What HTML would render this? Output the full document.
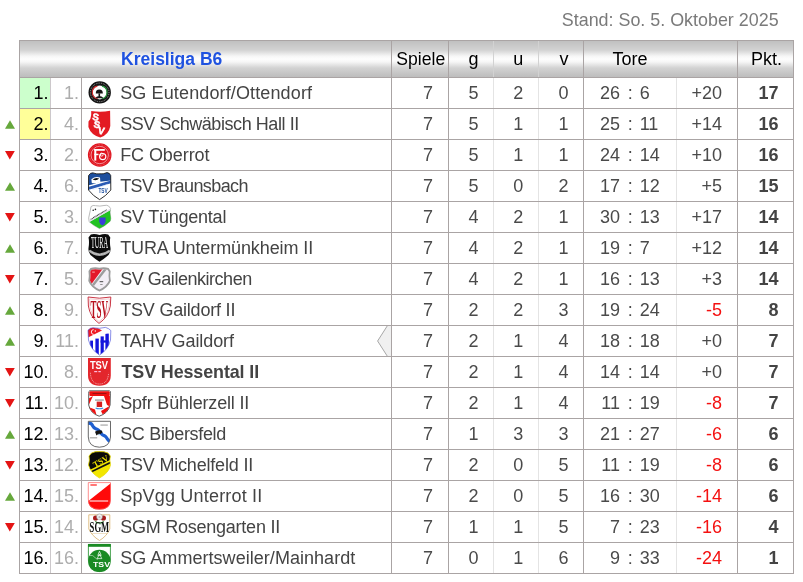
<!DOCTYPE html><html><head><meta charset="utf-8"><title>Kreisliga B6</title><style>
*{margin:0;padding:0;box-sizing:border-box}
html,body{width:803px;height:582px;background:#fff;overflow:hidden}
body{position:relative;font-family:"Liberation Sans",Arial,sans-serif;font-size:18px;color:#444}
.a{position:absolute;white-space:nowrap}
.stand{position:absolute;top:6px;right:24.4px;font-size:17.9px;color:#7a7a7a;line-height:28px;white-space:nowrap}
.hdr{position:absolute;left:19px;top:40px;width:775px;height:38px;border:1px solid #aaa4a4;
 background:linear-gradient(to bottom,#c0c0c0 0%,#d2d2d2 25%,#f6f6f6 42%,#fdfdfd 50%,#f6f6f6 58%,#d2d2d2 75%,#bdbdbd 100%)}
.ht{position:absolute;top:40px;height:38px;line-height:38px;color:#000;white-space:nowrap}
.vl{position:absolute;width:1px}
.hl{position:absolute;height:1px;left:19px;width:775px;background:#aaa4a4}
.row{position:absolute;left:0;width:803px;height:30px;line-height:30px}
.row .a{top:0;height:30px}
.rk{color:#000}
.pv{color:#adadad}
.nm{color:#444}
.nb{font-weight:bold}
.num{color:#4a4a4a}
.neg{color:#f41010}
.pk{font-weight:bold;color:#444}
.tri{position:absolute;left:0;top:0}
.logo{position:absolute;left:82px;top:0;width:36px;height:30px;overflow:visible}
</style></head><body>
<div class="stand">Stand: So. 5. Oktober 2025</div>
<div class="hdr"></div>
<div class="vl" style="left:391px;top:40px;height:38px;background:#aaa4a4"></div>
<div class="vl" style="left:448px;top:40px;height:38px;background:#aaa4a4"></div>
<div class="vl" style="left:583px;top:40px;height:38px;background:#aaa4a4"></div>
<div class="vl" style="left:737px;top:40px;height:38px;background:#aaa4a4"></div>
<div class="vl" style="left:493px;top:41px;height:36px;background:#d2d2d2"></div>
<div class="vl" style="left:538px;top:41px;height:36px;background:#d2d2d2"></div>
<div class="ht" style="left:121.1px;font-weight:bold;color:#1f52e0;font-size:17.5px">Kreisliga B6</div>
<div class="ht" style="left:396.3px;font-size:17.6px">Spiele</div>
<div class="ht" style="right:324.60px">g</div>
<div class="ht" style="right:279.80px">u</div>
<div class="ht" style="right:234.40px">v</div>
<div class="ht" style="left:612.5px">Tore</div>
<div class="ht" style="left:751px">Pkt.</div>
<div class="a" style="left:20px;top:78px;width:30px;height:30px;background:#ccffcc"></div>
<div class="a" style="left:20px;top:109px;width:30px;height:30px;background:#ffff99"></div>
<div class="vl" style="left:19px;top:78px;height:496px;background:#aaa4a4"></div>
<div class="vl" style="left:50px;top:78px;height:496px;background:#ccc8cb"></div>
<div class="vl" style="left:81px;top:78px;height:496px;background:#aaa4a4"></div>
<div class="vl" style="left:391px;top:78px;height:496px;background:#aaa4a4"></div>
<div class="vl" style="left:448px;top:78px;height:496px;background:#aaa4a4"></div>
<div class="vl" style="left:493px;top:78px;height:496px;background:#e4e4e4"></div>
<div class="vl" style="left:538px;top:78px;height:496px;background:#e4e4e4"></div>
<div class="vl" style="left:583px;top:78px;height:496px;background:#aaa4a4"></div>
<div class="vl" style="left:676px;top:78px;height:496px;background:#e4e4e4"></div>
<div class="vl" style="left:737px;top:78px;height:496px;background:#aaa4a4"></div>
<div class="vl" style="left:793px;top:78px;height:496px;background:#aaa4a4"></div>
<div class="hl" style="top:108px"></div>
<div class="hl" style="top:139px"></div>
<div class="hl" style="top:170px"></div>
<div class="hl" style="top:201px"></div>
<div class="hl" style="top:232px"></div>
<div class="hl" style="top:263px"></div>
<div class="hl" style="top:294px"></div>
<div class="hl" style="top:325px"></div>
<div class="hl" style="top:356px"></div>
<div class="hl" style="top:387px"></div>
<div class="hl" style="top:418px"></div>
<div class="hl" style="top:449px"></div>
<div class="hl" style="top:480px"></div>
<div class="hl" style="top:511px"></div>
<div class="hl" style="top:542px"></div>
<div class="hl" style="top:573px"></div>
<svg class="a" style="left:370px;top:320px" width="30" height="45" viewBox="370 320 30 45"><polygon points="391,326 387,326 377.5,341 387,356 391,356" fill="#f0f0f0"/><polyline points="387.2,326 377.6,341 387.2,356" fill="none" stroke="#a8a8a8" stroke-width="1"/></svg>
<div class="row" style="top:78px">
<div class="a rk" style="right:754.50px">1.</div>
<div class="a pv" style="right:724.00px">1.</div>
<svg class="logo" viewBox="82 78 36 30" width="36" height="30">
<circle cx="99.7" cy="92.4" r="11.2" fill="#141414"/>
<circle cx="99.7" cy="92.4" r="9.3" fill="none" stroke="#fff" stroke-width="1" stroke-dasharray="0.8 1" opacity="0.6"/>
<circle cx="99.7" cy="92.4" r="7.0" fill="#fff"/>
<path d="M97.4 86.2 A6.3 6.3 0 0 0 97.6 98.6" stroke="#d03030" stroke-width="1.2" fill="none"/>
<path d="M102 86.2 A6.3 6.3 0 0 1 101.8 98.6" stroke="#2c9a44" stroke-width="1.2" fill="none"/>
<path d="M95.8 93.6 Q95.6 89.4 99.3 89.4 Q103 89.4 102.8 93.6 Z" fill="#151515"/>
<rect x="98.5" y="93.4" width="1.6" height="3.6" fill="#151515"/>
<path d="M95.4 98.2 Q97 95.6 99.3 96.6 Q101.6 95.6 103.4 98.2 Z" fill="#1a1a1a"/>
</svg>
<div class="a nm" style="left:120.2px;letter-spacing:0.13px">SG Eutendorf/Ottendorf</div>
<div class="a num" style="right:370.00px">7</div>
<div class="a num" style="right:324.60px">5</div>
<div class="a num" style="right:279.80px">2</div>
<div class="a num" style="right:234.40px">0</div>
<div class="a num" style="right:183.00px">26</div>
<div class="a num" style="left:627.80px">:</div>
<div class="a num" style="left:639.7px">6</div>
<div class="a num" style="right:81.00px">+20</div>
<div class="a pk" style="right:24.40px">17</div>
</div>
<div class="row" style="top:109px">
<svg class="tri" width="20" height="30" viewBox="0 0 20 30"><polygon points="5,19.7 15,19.7 10,11.2" fill="#66a83c"/></svg>
<div class="a rk" style="right:754.50px">2.</div>
<div class="a pv" style="right:724.00px">4.</div>
<svg class="logo" viewBox="82 109 36 30" width="36" height="30">
<path d="M91.2 111 Q100.5 112.6 110.1 110.8 L110.3 126 Q109 134.5 100.3 137.6 Q91 135 88.4 127 L88.5 121.5 Q91 119 91.2 115 Z" fill="#e31b23"/>
<text x="92.6" y="120.4" font-family="Liberation Sans" font-weight="bold" font-size="9.6" fill="#fff" stroke="#fff" stroke-width="0.5" transform="rotate(10 96 117)">S</text>
<text x="93.8" y="127.8" font-family="Liberation Sans" font-weight="bold" font-size="9.6" fill="#fff" stroke="#fff" stroke-width="0.5" transform="rotate(10 97 124)">S</text>
<text x="98.2" y="134.4" font-family="Liberation Sans" font-weight="bold" font-size="9.8" fill="#fff" stroke="#fff" stroke-width="0.5" transform="rotate(10 103 130)">V</text>
</svg>
<div class="a nm" style="left:120.2px;letter-spacing:-0.43px">SSV Schwäbisch Hall II</div>
<div class="a num" style="right:370.00px">7</div>
<div class="a num" style="right:324.60px">5</div>
<div class="a num" style="right:279.80px">1</div>
<div class="a num" style="right:234.40px">1</div>
<div class="a num" style="right:183.00px">25</div>
<div class="a num" style="left:627.80px">:</div>
<div class="a num" style="left:639.7px">11</div>
<div class="a num" style="right:81.00px">+14</div>
<div class="a pk" style="right:24.40px">16</div>
</div>
<div class="row" style="top:140px">
<svg class="tri" width="20" height="30" viewBox="0 0 20 30"><polygon points="5,11 14.8,11 9.8,19.6" fill="#e41414"/></svg>
<div class="a rk" style="right:754.50px">3.</div>
<div class="a pv" style="right:724.00px">2.</div>
<svg class="logo" viewBox="82 140 36 30" width="36" height="30">
<circle cx="99.7" cy="155" r="11.8" fill="#e0141e"/>
<circle cx="99.7" cy="155" r="8.7" fill="none" stroke="#fff" stroke-width="0.6" opacity="0.9"/>
<circle cx="99.7" cy="155" r="10.3" fill="none" stroke="#fff" stroke-width="0.8" stroke-dasharray="0.6 0.9" opacity="0.45"/>
<rect x="94.3" y="149" width="2.0" height="11.6" fill="#fff"/>
<rect x="94.3" y="149" width="10.5" height="1.8" fill="#fff"/>
<rect x="94.3" y="153.7" width="4.2" height="1.5" fill="#fff"/>
<circle cx="102.7" cy="156.6" r="3.1" fill="none" stroke="#fff" stroke-width="1.2"/>
<circle cx="101.6" cy="154.6" r="1.5" fill="none" stroke="#fff" stroke-width="0.9"/>
</svg>
<div class="a nm" style="left:120.2px;letter-spacing:-0.08px">FC Oberrot</div>
<div class="a num" style="right:370.00px">7</div>
<div class="a num" style="right:324.60px">5</div>
<div class="a num" style="right:279.80px">1</div>
<div class="a num" style="right:234.40px">1</div>
<div class="a num" style="right:183.00px">24</div>
<div class="a num" style="left:627.80px">:</div>
<div class="a num" style="left:639.7px">14</div>
<div class="a num" style="right:81.00px">+10</div>
<div class="a pk" style="right:24.40px">16</div>
</div>
<div class="row" style="top:171px">
<svg class="tri" width="20" height="30" viewBox="0 0 20 30"><polygon points="5,19.7 15,19.7 10,11.2" fill="#66a83c"/></svg>
<div class="a rk" style="right:754.50px">4.</div>
<div class="a pv" style="right:724.00px">6.</div>
<svg class="logo" viewBox="82 171 36 30" width="36" height="30">
<defs><clipPath id="c4"><path d="M88.6 175.5 Q90.5 172.4 93 172.9 Q97 174.4 100 173.8 Q103 174.4 107 172.6 Q109.7 172.8 110.7 175.5 L110.8 190 Q106 196 99.6 199.6 Q93 196 88.5 190 Z"/></clipPath></defs>
<path d="M88.6 175.5 Q90.5 172.4 93 172.9 Q97 174.4 100 173.8 Q103 174.4 107 172.6 Q109.7 172.8 110.7 175.5 L110.8 190 Q106 196 99.6 199.6 Q93 196 88.5 190 Z" fill="#fff"/>
<g clip-path="url(#c4)">
<polygon points="86,170 113,170 113,180.2 100,181.8 92,184.6 86,186" fill="#1d4e9e"/>
<polygon points="86,187.6 113,179.8 113,182.6 86,190.6" fill="#2a5ab4"/>
<path d="M91.4 179.2 Q95 176 100 177.4 L100.4 182.2 Q95.5 183.8 91.8 183 Z" fill="#fff"/>
<path d="M92.6 179.6 Q95.6 176.8 99.2 178.6 Q96.4 181.4 92.6 179.6 Z" fill="#111"/>
<rect x="90.5" y="186.9" width="17" height="0.7" fill="#cfe0ff" opacity="0.7" transform="rotate(-20.5 99 184)"/>
</g>
<path d="M88.6 175.5 Q90.5 172.4 93 172.9 Q97 174.4 100 173.8 Q103 174.4 107 172.6 Q109.7 172.8 110.7 175.5 L110.8 190 Q106 196 99.6 199.6 Q93 196 88.5 190 Z" fill="none" stroke="#1a1a1a" stroke-width="0.9"/>
<text x="98.4" y="193.2" font-family="Liberation Sans" font-weight="bold" font-size="6.4" fill="#1d4e9e" textLength="9.2" lengthAdjust="spacingAndGlyphs">TSV</text>
</svg>
<div class="a nm" style="left:120.2px;letter-spacing:-0.6px">TSV Braunsbach</div>
<div class="a num" style="right:370.00px">7</div>
<div class="a num" style="right:324.60px">5</div>
<div class="a num" style="right:279.80px">0</div>
<div class="a num" style="right:234.40px">2</div>
<div class="a num" style="right:183.00px">17</div>
<div class="a num" style="left:627.80px">:</div>
<div class="a num" style="left:639.7px">12</div>
<div class="a num" style="right:81.00px">+5</div>
<div class="a pk" style="right:24.40px">15</div>
</div>
<div class="row" style="top:202px">
<svg class="tri" width="20" height="30" viewBox="0 0 20 30"><polygon points="5,11 14.8,11 9.8,19.6" fill="#e41414"/></svg>
<div class="a rk" style="right:754.50px">5.</div>
<div class="a pv" style="right:724.00px">3.</div>
<svg class="logo" viewBox="82 202 36 30" width="36" height="30">
<defs><clipPath id="c5"><path d="M91 206.6 Q93 204.8 95.5 205.7 Q100 206.6 104 205.5 Q107 204.8 108.6 206 L110.6 208.5 Q109.6 212 110.5 216 Q111.2 219 110.2 221.2 Q105 226 99.5 228.6 Q93.5 225.5 89.2 221.8 Q88 218 89.5 214 Q90.5 210 91 206.6 Z"/></clipPath></defs>
<path d="M91 206.6 Q93 204.8 95.5 205.7 Q100 206.6 104 205.5 Q107 204.8 108.6 206 L110.6 208.5 Q109.6 212 110.5 216 Q111.2 219 110.2 221.2 Q105 226 99.5 228.6 Q93.5 225.5 89.2 221.8 Q88 218 89.5 214 Q90.5 210 91 206.6 Z" fill="#fff" stroke="#aaa" stroke-width="0.8"/>
<g clip-path="url(#c5)">
<polygon points="86,224 113,208.6 113,232 86,232" fill="#22c222"/>
<polygon points="86,222.6 113,207.2 113,208.6 86,224" fill="#e0d8e8"/>
</g>
<path d="M99.2 217.4 L105.6 217.4 L105.6 221.5 Q105.2 224.6 102.4 225.6 Q99.6 224.6 99.2 221.5 Z" fill="#3a3ed8"/>
<circle cx="93.2" cy="210.2" r="0.8" fill="#222"/><circle cx="95.4" cy="209.4" r="0.8" fill="#222"/>
<line x1="90.6" y1="219.4" x2="106.6" y2="209.8" stroke="#333" stroke-width="1.1" stroke-dasharray="1 0.5"/>
</svg>
<div class="a nm" style="left:120.2px;letter-spacing:-0.23px">SV Tüngental</div>
<div class="a num" style="right:370.00px">7</div>
<div class="a num" style="right:324.60px">4</div>
<div class="a num" style="right:279.80px">2</div>
<div class="a num" style="right:234.40px">1</div>
<div class="a num" style="right:183.00px">30</div>
<div class="a num" style="left:627.80px">:</div>
<div class="a num" style="left:639.7px">13</div>
<div class="a num" style="right:81.00px">+17</div>
<div class="a pk" style="right:24.40px">14</div>
</div>
<div class="row" style="top:233px">
<svg class="tri" width="20" height="30" viewBox="0 0 20 30"><polygon points="5,19.7 15,19.7 10,11.2" fill="#66a83c"/></svg>
<div class="a rk" style="right:754.50px">6.</div>
<div class="a pv" style="right:724.00px">7.</div>
<svg class="logo" viewBox="82 233 36 30" width="36" height="30">
<path d="M90.8 234.4 Q95 233.6 99.5 235 Q104 233.6 108.2 234.4 L110.3 237.5 Q109.5 242 110.5 248 Q111 252 108.5 255 Q104 259 99.5 261.8 Q95 259 90.5 255 Q88 252 88.5 248 Q89.5 242 88.5 237.5 Z" fill="#0b0b0b"/>
<text x="0" y="0" font-family="Liberation Serif" font-size="9.4" fill="#fff" textLength="17.2" lengthAdjust="spacingAndGlyphs" transform="translate(90.9 248.4) scale(1 1.85)">TURA</text>
<path d="M89.4 250.8 Q99.5 258.6 109.8 250.8" fill="none" stroke="#a8a8a8" stroke-width="2.4"/>
<path d="M89.2 250.3 Q99.5 258.5 110 250.3" fill="none" stroke="#ddd" stroke-width="0.8" stroke-dasharray="0.8 0.8"/>
</svg>
<div class="a nm" style="left:120.2px;letter-spacing:-0.105px">TURA Untermünkheim II</div>
<div class="a num" style="right:370.00px">7</div>
<div class="a num" style="right:324.60px">4</div>
<div class="a num" style="right:279.80px">2</div>
<div class="a num" style="right:234.40px">1</div>
<div class="a num" style="right:183.00px">19</div>
<div class="a num" style="left:627.80px">:</div>
<div class="a num" style="left:639.7px">7</div>
<div class="a num" style="right:81.00px">+12</div>
<div class="a pk" style="right:24.40px">14</div>
</div>
<div class="row" style="top:264px">
<svg class="tri" width="20" height="30" viewBox="0 0 20 30"><polygon points="5,11 14.8,11 9.8,19.6" fill="#e41414"/></svg>
<div class="a rk" style="right:754.50px">7.</div>
<div class="a pv" style="right:724.00px">5.</div>
<svg class="logo" viewBox="82 264 36 30" width="36" height="30">
<defs><clipPath id="c7"><path d="M91.6 269.8 Q95 268.8 99.5 269.7 Q104 268.8 107.6 269.8 L108.8 271.8 Q108.2 276 109 280.6 Q106.6 286.2 99.5 289.6 Q92.4 286.2 90 280.6 Q90.8 276 90.2 271.8 Z"/></clipPath></defs>
<path d="M90.5 268 Q95 266.8 99.5 267.8 Q104 266.8 108.6 268 L110.6 271 Q109.8 276 110.8 281 Q108 288 99.5 291.5 Q91 288 88.3 281 Q89.3 276 88.5 271 Z" fill="#9c9c9c"/>
<path d="M91.6 269.8 Q95 268.8 99.5 269.7 Q104 268.8 107.6 269.8 L108.8 271.8 Q108.2 276 109 280.6 Q106.6 286.2 99.5 289.6 Q92.4 286.2 90 280.6 Q90.8 276 90.2 271.8 Z" fill="#f3eef5"/>
<g clip-path="url(#c7)">
<polygon points="86,266 104.8,266 90.6,285.2 86,285.2" fill="#e3182a"/>
<line x1="91.2" y1="287.4" x2="107.6" y2="266.4" stroke="#9c9c9c" stroke-width="2.4"/>
</g>
<rect x="99.6" y="281" width="3.6" height="1.2" fill="#666"/>
<rect x="100.2" y="284" width="2.4" height="0.9" fill="#888"/>
<rect x="92.2" y="271.6" width="2.6" height="1" fill="#f9b0b0"/>
</svg>
<div class="a nm" style="left:120.2px;letter-spacing:-0.47px">SV Gailenkirchen</div>
<div class="a num" style="right:370.00px">7</div>
<div class="a num" style="right:324.60px">4</div>
<div class="a num" style="right:279.80px">2</div>
<div class="a num" style="right:234.40px">1</div>
<div class="a num" style="right:183.00px">16</div>
<div class="a num" style="left:627.80px">:</div>
<div class="a num" style="left:639.7px">13</div>
<div class="a num" style="right:81.00px">+3</div>
<div class="a pk" style="right:24.40px">14</div>
</div>
<div class="row" style="top:295px">
<svg class="tri" width="20" height="30" viewBox="0 0 20 30"><polygon points="5,19.7 15,19.7 10,11.2" fill="#66a83c"/></svg>
<div class="a rk" style="right:754.50px">8.</div>
<div class="a pv" style="right:724.00px">9.</div>
<svg class="logo" viewBox="82 295 36 30" width="36" height="30">
<path d="M88.1 297 Q99.5 299.4 110.8 297 L110.3 306 Q108.5 317 99 323.4 Q90 317 88.4 306 Z" fill="#fff" stroke="#c42030" stroke-width="0.9"/>
<path d="M89.5 298.8 Q99.5 300.8 109.4 298.8 L109 306 Q107.3 315.8 99 321.6 Q91.3 315.8 89.8 306 Z" fill="none" stroke="#e8a0a8" stroke-width="0.5"/>
<text x="0" y="0" font-family="Liberation Serif" font-weight="bold" font-size="9" fill="#b8101e" textLength="17.4" lengthAdjust="spacingAndGlyphs" transform="translate(90.6 318.2) scale(1 2.9)">TSV</text>
</svg>
<div class="a nm" style="left:120.2px;letter-spacing:-0.2px">TSV Gaildorf II</div>
<div class="a num" style="right:370.00px">7</div>
<div class="a num" style="right:324.60px">2</div>
<div class="a num" style="right:279.80px">2</div>
<div class="a num" style="right:234.40px">3</div>
<div class="a num" style="right:183.00px">19</div>
<div class="a num" style="left:627.80px">:</div>
<div class="a num" style="left:639.7px">24</div>
<div class="a neg" style="right:81.00px">-5</div>
<div class="a pk" style="right:24.40px">8</div>
</div>
<div class="row" style="top:326px">
<svg class="tri" width="20" height="30" viewBox="0 0 20 30"><polygon points="5,19.7 15,19.7 10,11.2" fill="#66a83c"/></svg>
<div class="a rk" style="right:754.50px">9.</div>
<div class="a pv" style="right:724.00px">11.</div>
<svg class="logo" viewBox="82 326 36 30" width="36" height="30">
<defs><clipPath id="c9"><path d="M88 330.2 Q90.5 327.4 93.5 327.8 Q99 329 105.5 327.4 Q109 328.4 110.8 330.5 L110.5 340 Q108 350 99.5 355 Q91 350 88.5 340 Z"/></clipPath></defs>
<path d="M88 330.2 Q90.5 327.4 93.5 327.8 Q99 329 105.5 327.4 Q109 328.4 110.8 330.5 L110.5 340 Q108 350 99.5 355 Q91 350 88.5 340 Z" fill="#fff"/>
<g clip-path="url(#c9)">
<rect x="90.2" y="340.6" width="2.8" height="12" fill="#1414dc"/>
<rect x="95.4" y="338.6" width="3.4" height="18" fill="#1414dc"/>
<rect x="100.6" y="336.4" width="3.2" height="20" fill="#1414dc"/>
<rect x="105.4" y="333.6" width="3.4" height="16" fill="#1414dc"/>
<rect x="100.6" y="340.4" width="8" height="2.2" fill="#1414dc"/>
<polygon points="86,338.6 112,329.2 112,331.4 86,340.8" fill="#fff"/>
<polygon points="86,326 94,326 102,330.6 88,337.4 86,337.4" fill="#ee1c24"/>
</g>
<path d="M88 330.2 Q90.5 327.4 93.5 327.8 Q99 329 105.5 327.4 Q109 328.4 110.8 330.5 L110.5 340 Q108 350 99.5 355 Q91 350 88.5 340 Z" fill="none" stroke="#3c44d8" stroke-width="0.6"/>
<path d="M93.6 329.6 A2.4 2.4 0 1 0 93.8 334.4" fill="none" stroke="#fff" stroke-width="0.9"/>
<circle cx="95.3" cy="331" r="0.7" fill="#fff"/>
</svg>
<div class="a nm" style="left:120.2px;letter-spacing:-0.07px">TAHV Gaildorf</div>
<div class="a num" style="right:370.00px">7</div>
<div class="a num" style="right:324.60px">2</div>
<div class="a num" style="right:279.80px">1</div>
<div class="a num" style="right:234.40px">4</div>
<div class="a num" style="right:183.00px">18</div>
<div class="a num" style="left:627.80px">:</div>
<div class="a num" style="left:639.7px">18</div>
<div class="a num" style="right:81.00px">+0</div>
<div class="a pk" style="right:24.40px">7</div>
</div>
<div class="row" style="top:357px">
<svg class="tri" width="20" height="30" viewBox="0 0 20 30"><polygon points="5,11 14.8,11 9.8,19.6" fill="#e41414"/></svg>
<div class="a rk" style="right:754.50px">10.</div>
<div class="a pv" style="right:724.00px">8.</div>
<svg class="logo" viewBox="82 357 36 30" width="36" height="30">
<path d="M88 358 L110.8 358 L110.8 375 Q110.8 385.7 99.4 385.7 Q88 385.7 88 375 Z" fill="#e3262c"/>
<text x="89.9" y="368.6" font-family="Liberation Sans" font-weight="bold" font-size="10.4" fill="#fff" textLength="18.2" lengthAdjust="spacingAndGlyphs">TSV</text>
<rect x="94.2" y="371" width="3" height="1.2" fill="#fbd"/>
<rect x="98.4" y="371" width="2.4" height="1.2" fill="#fbd"/>
<path d="M90.4 372.8 Q91 384 99.4 384 Q108 384 108.6 372.8" fill="none" stroke="#fff" stroke-width="0.9" stroke-dasharray="0.9 1" opacity="0.75"/>
</svg>
<div class="a nm nb" style="left:120.2px;font-size:17.9px;margin-left:1.3px;letter-spacing:-0.1px">TSV Hessental II</div>
<div class="a num" style="right:370.00px">7</div>
<div class="a num" style="right:324.60px">2</div>
<div class="a num" style="right:279.80px">1</div>
<div class="a num" style="right:234.40px">4</div>
<div class="a num" style="right:183.00px">14</div>
<div class="a num" style="left:627.80px">:</div>
<div class="a num" style="left:639.7px">14</div>
<div class="a num" style="right:81.00px">+0</div>
<div class="a pk" style="right:24.40px">7</div>
</div>
<div class="row" style="top:388px">
<svg class="tri" width="20" height="30" viewBox="0 0 20 30"><polygon points="5,11 14.8,11 9.8,19.6" fill="#e41414"/></svg>
<div class="a rk" style="right:754.50px">11.</div>
<div class="a pv" style="right:724.00px">10.</div>
<svg class="logo" viewBox="82 388 36 30" width="36" height="30">
<defs><clipPath id="c11"><path d="M89 393 L110 393 L109.8 405 Q108 413 99.2 415.8 Q90.5 413 89 405 Z"/></clipPath></defs>
<path d="M89.6 390.8 L109.6 390.8 Q110.6 391 110.4 393.2 L110.1 405 Q108.2 413.4 99.2 416.2 Q90.3 413.4 88.7 405 L88.7 393.2 Q88.6 391 89.6 390.8 Z" fill="#fff" stroke="#333" stroke-width="0.8"/>
<g clip-path="url(#c11)">
<polygon points="86,400 93,396 86,411" fill="#ee1111"/>
<polygon points="104,396 113,396 113,408 107,405" fill="#ee1111"/>
<polygon points="86,406 95,409.5 97,417 86,417" fill="#ee1111"/>
<polygon points="101,411 113,404 113,417 104,417" fill="#ee1111"/>
</g>
<rect x="89.4" y="391.3" width="20.3" height="4.7" rx="1" fill="#ee1111"/>
<rect x="92.5" y="393" width="14" height="1" fill="#7a1010" opacity="0.7"/>
<circle cx="99.4" cy="404.6" r="4.8" fill="#fff"/>
<rect x="96.7" y="401.6" width="5.4" height="5.4" fill="#d41e1e"/>
<path d="M95.6 408 Q99.4 409.6 103.2 408" stroke="#3f8fdf" stroke-width="1.1" fill="none"/>
<rect x="95" y="399.6" width="8.8" height="0.9" fill="#333" opacity="0.7"/>
</svg>
<div class="a nm" style="left:120.2px;letter-spacing:-0.17px">Spfr Bühlerzell II</div>
<div class="a num" style="right:370.00px">7</div>
<div class="a num" style="right:324.60px">2</div>
<div class="a num" style="right:279.80px">1</div>
<div class="a num" style="right:234.40px">4</div>
<div class="a num" style="right:183.00px">11</div>
<div class="a num" style="left:627.80px">:</div>
<div class="a num" style="left:639.7px">19</div>
<div class="a neg" style="right:81.00px">-8</div>
<div class="a pk" style="right:24.40px">7</div>
</div>
<div class="row" style="top:419px">
<svg class="tri" width="20" height="30" viewBox="0 0 20 30"><polygon points="5,19.7 15,19.7 10,11.2" fill="#66a83c"/></svg>
<div class="a rk" style="right:754.50px">12.</div>
<div class="a pv" style="right:724.00px">13.</div>
<svg class="logo" viewBox="82 419 36 30" width="36" height="30">
<defs><clipPath id="c12"><path d="M88.3 421.3 L110.5 421.3 L110.5 437 Q110 447 99.4 447.2 Q88.7 447 88.3 437 Z"/></clipPath></defs>
<path d="M88.3 421.3 L110.5 421.3 L110.5 437 Q110 447 99.4 447.2 Q88.7 447 88.3 437 Z" fill="#fff"/>
<g clip-path="url(#c12)">
<path d="M87.6 423.4 C90.6 422.6 92.2 424.4 93 426.4 C93.8 428.4 95.6 428.6 97.4 429.4 C99.4 430.4 100.2 432.4 101.8 434.2 C103.2 435.8 104.6 435.4 105.8 436.8 C107 438.2 107.6 440 109.6 441.6" fill="none" stroke="#1f5fd0" stroke-width="3.2"/>
</g>
<path d="M88.3 421.3 L110.5 421.3 L110.5 437 Q110 447 99.4 447.2 Q88.7 447 88.3 437 Z" fill="none" stroke="#444" stroke-width="0.8"/>
<path d="M95 431.8 Q97.4 429.6 101.8 430.6 L102.6 432.6 Q100.4 434.8 97.6 434.6 L96.4 435.4 L95.8 433.8 Z" fill="#141414"/>
<rect x="98.6" y="433.8" width="1" height="1.6" fill="#9cf"/>
<rect x="100.4" y="424.6" width="7.4" height="0.9" fill="#8a8a8a"/>
<rect x="89.8" y="437.4" width="7.4" height="0.9" fill="#8a8a8a"/>
</svg>
<div class="a nm" style="left:120.2px;letter-spacing:-0.33px">SC Bibersfeld</div>
<div class="a num" style="right:370.00px">7</div>
<div class="a num" style="right:324.60px">1</div>
<div class="a num" style="right:279.80px">3</div>
<div class="a num" style="right:234.40px">3</div>
<div class="a num" style="right:183.00px">21</div>
<div class="a num" style="left:627.80px">:</div>
<div class="a num" style="left:639.7px">27</div>
<div class="a neg" style="right:81.00px">-6</div>
<div class="a pk" style="right:24.40px">6</div>
</div>
<div class="row" style="top:450px">
<svg class="tri" width="20" height="30" viewBox="0 0 20 30"><polygon points="5,11 14.8,11 9.8,19.6" fill="#e41414"/></svg>
<div class="a rk" style="right:754.50px">13.</div>
<div class="a pv" style="right:724.00px">12.</div>
<svg class="logo" viewBox="82 450 36 30" width="36" height="30">
<defs><clipPath id="c13"><path d="M91.5 453 Q95.5 451.2 99.5 451.6 Q103.5 451.2 108 453 L110.3 456 Q109.3 460 110.5 465 Q109 473 99.5 478 Q90.5 473 88.5 465 Q90 460 89 456 Z"/></clipPath></defs>
<path d="M91.5 453 Q95.5 451.2 99.5 451.6 Q103.5 451.2 108 453 L110.3 456 Q109.3 460 110.5 465 Q109 473 99.5 478 Q90.5 473 88.5 465 Q90 460 89 456 Z" fill="#f2e600"/>
<g clip-path="url(#c13)">
<polygon points="86,449 113,449 113,458.6 86,471.6" fill="#0a0a0a"/>
<polygon points="86,473.4 113,460.4 113,462.2 86,475.2" fill="#111"/>
</g>
<path d="M91.5 453 Q95.5 451.2 99.5 451.6 Q103.5 451.2 108 453 L110.3 456 Q109.3 460 110.5 465 Q109 473 99.5 478 Q90.5 473 88.5 465 Q90 460 89 456 Z" fill="none" stroke="#e8dc10" stroke-width="0.8"/>
<text x="92.6" y="465.6" font-family="Liberation Serif" font-weight="bold" font-size="8.4" fill="#f2e600" transform="rotate(-30 98 462)">TSV</text>
</svg>
<div class="a nm" style="left:120.2px;letter-spacing:-0.19px">TSV Michelfeld II</div>
<div class="a num" style="right:370.00px">7</div>
<div class="a num" style="right:324.60px">2</div>
<div class="a num" style="right:279.80px">0</div>
<div class="a num" style="right:234.40px">5</div>
<div class="a num" style="right:183.00px">11</div>
<div class="a num" style="left:627.80px">:</div>
<div class="a num" style="left:639.7px">19</div>
<div class="a neg" style="right:81.00px">-8</div>
<div class="a pk" style="right:24.40px">6</div>
</div>
<div class="row" style="top:481px">
<svg class="tri" width="20" height="30" viewBox="0 0 20 30"><polygon points="5,19.7 15,19.7 10,11.2" fill="#66a83c"/></svg>
<div class="a rk" style="right:754.50px">14.</div>
<div class="a pv" style="right:724.00px">15.</div>
<svg class="logo" viewBox="82 481 36 30" width="36" height="30">
<defs><clipPath id="c14"><path d="M88 482.3 L110.8 482.3 L110.8 499 Q110.8 509.6 99.4 509.6 Q88 509.6 88 499 Z"/></clipPath></defs>
<path d="M88 482.3 L110.8 482.3 L110.8 499 Q110.8 509.6 99.4 509.6 Q88 509.6 88 499 Z" fill="#fff"/>
<g clip-path="url(#c14)"><polygon points="110.8,483.2 110.8,512 86,512 86,500.6 89,500.6" fill="#ff0a0a"/></g>
<path d="M88.3 482.6 L110.5 482.6 L110.5 499 Q110.5 509.3 99.4 509.3 Q88.3 509.3 88.3 499 Z" fill="none" stroke="#ff6060" stroke-width="0.7"/>
<rect x="90.4" y="484.2" width="6.4" height="1.6" fill="#f55"/>
<rect x="89.6" y="500.4" width="18.6" height="1.2" fill="#fff" opacity="0.85"/>
</svg>
<div class="a nm" style="left:120.2px;letter-spacing:0.19px">SpVgg Unterrot II</div>
<div class="a num" style="right:370.00px">7</div>
<div class="a num" style="right:324.60px">2</div>
<div class="a num" style="right:279.80px">0</div>
<div class="a num" style="right:234.40px">5</div>
<div class="a num" style="right:183.00px">16</div>
<div class="a num" style="left:627.80px">:</div>
<div class="a num" style="left:639.7px">30</div>
<div class="a neg" style="right:81.00px">-14</div>
<div class="a pk" style="right:24.40px">6</div>
</div>
<div class="row" style="top:512px">
<svg class="tri" width="20" height="30" viewBox="0 0 20 30"><polygon points="5,11 14.8,11 9.8,19.6" fill="#e41414"/></svg>
<div class="a rk" style="right:754.50px">15.</div>
<div class="a pv" style="right:724.00px">14.</div>
<svg class="logo" viewBox="82 512 36 30" width="36" height="30">
<path d="M88.8 514.8 L109.8 514.8 L109.8 529 Q107 536 99.5 540.5 Q92 536 88.8 529 Z" fill="#fff" stroke="#e0bf86" stroke-width="1"/>
<circle cx="95.6" cy="518" r="2.6" fill="#a61a1a"/>
<circle cx="103.4" cy="518" r="2.6" fill="#a61a1a"/>
<path d="M94.8 520.6 Q99.5 524.6 104.2 520.6 L103.2 522.4 Q99.5 524.8 95.8 522.4 Z" fill="#1c7a1c"/>
<circle cx="99.5" cy="516.8" r="2.9" fill="#f2f2f2" stroke="#888" stroke-width="0.5"/>
<circle cx="99.5" cy="517.2" r="1.1" fill="#bbb"/>
<text x="0" y="0" font-family="Liberation Serif" font-weight="bold" font-size="11.6" fill="#111" textLength="19.6" lengthAdjust="spacingAndGlyphs" transform="translate(89.6 531.9) scale(1 1.22)">SGM</text>
<rect x="92" y="533.2" width="15" height="0.6" fill="#e5cda0"/>
</svg>
<div class="a nm" style="left:120.2px;letter-spacing:-0.24px">SGM Rosengarten II</div>
<div class="a num" style="right:370.00px">7</div>
<div class="a num" style="right:324.60px">1</div>
<div class="a num" style="right:279.80px">1</div>
<div class="a num" style="right:234.40px">5</div>
<div class="a num" style="right:183.00px">7</div>
<div class="a num" style="left:627.80px">:</div>
<div class="a num" style="left:639.7px">23</div>
<div class="a neg" style="right:81.00px">-16</div>
<div class="a pk" style="right:24.40px">4</div>
</div>
<div class="row" style="top:543px">
<div class="a rk" style="right:754.50px">16.</div>
<div class="a pv" style="right:724.00px">16.</div>
<svg class="logo" viewBox="82 543 36 30" width="36" height="30">
<defs><clipPath id="c16"><path d="M88 544 L110.8 544 L110.8 560 Q110.8 572 99.4 572 Q88 572 88 560 Z"/></clipPath></defs>
<path d="M88 544 L110.8 544 L110.8 560 Q110.8 572 99.4 572 Q88 572 88 560 Z" fill="#fff"/>
<g clip-path="url(#c16)">
<rect x="88" y="544" width="23" height="2.8" fill="#1a8a24"/>
<circle cx="99.4" cy="561" r="11.2" fill="#1a8a24"/>
</g>
<path d="M88.4 544.4 L110.4 544.4 L110.4 560 Q110.4 571.6 99.4 571.6 Q88.4 571.6 88.4 560 Z" fill="none" stroke="#1a8a24" stroke-width="0.8"/>
<text x="93" y="567.4" font-family="Liberation Sans" font-weight="bold" font-size="8" fill="#fff" textLength="17" lengthAdjust="spacingAndGlyphs">TSV</text>
<path d="M99.5 551.2 L97.8 555.4 L101.2 555.4 Z M99.5 554 L97.2 558.6 L101.8 558.6 Z" fill="none" stroke="#fff" stroke-width="0.7"/>
<path d="M89.6 555.4 Q93 555 94.6 557 Q96 559.4 98 559.2" fill="none" stroke="#fff" stroke-width="0.5"/>
</svg>
<div class="a nm" style="left:120.2px;letter-spacing:0.04px">SG Ammertsweiler/Mainhardt</div>
<div class="a num" style="right:370.00px">7</div>
<div class="a num" style="right:324.60px">0</div>
<div class="a num" style="right:279.80px">1</div>
<div class="a num" style="right:234.40px">6</div>
<div class="a num" style="right:183.00px">9</div>
<div class="a num" style="left:627.80px">:</div>
<div class="a num" style="left:639.7px">33</div>
<div class="a neg" style="right:81.00px">-24</div>
<div class="a pk" style="right:24.40px">1</div>
</div>
</body></html>
